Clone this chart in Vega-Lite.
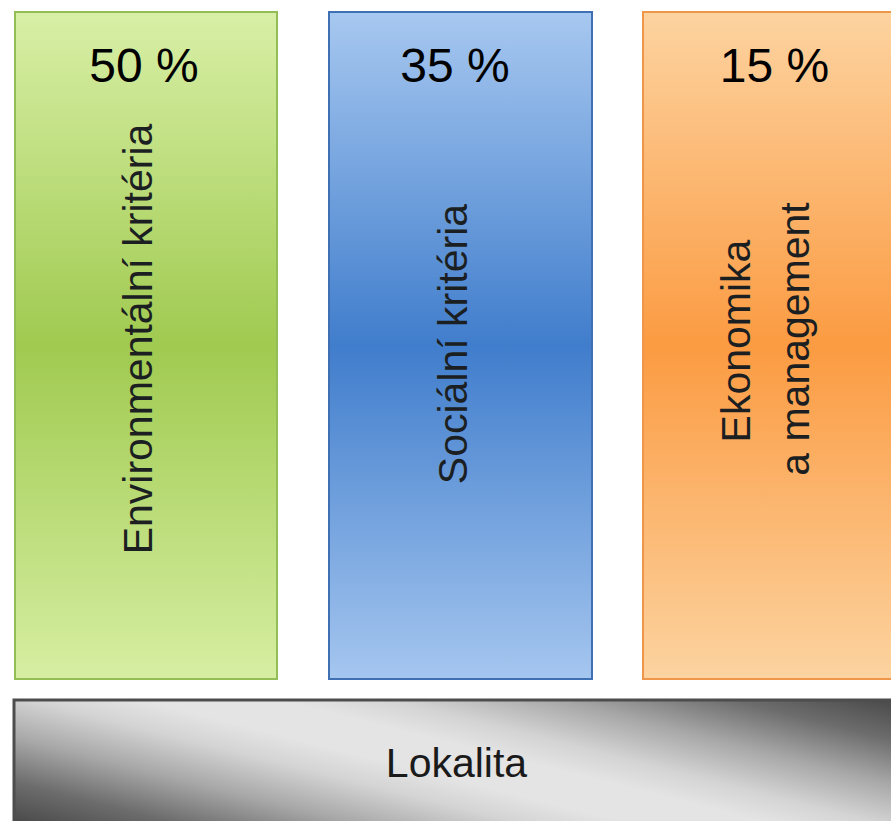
{
  "$schema": "https://vega.github.io/schema/vega-lite/v6.json",
  "width": 891,
  "height": 821,
  "padding": 0,
  "autosize": {"type": "none"},
  "background": "white",
  "config": {"view": {"stroke": null}, "font": "Liberation Sans"},
  "datasets": {
    "boxes": [
      {"name": "env", "x": 15, "x2": 277, "y": 12, "y2": 679},
      {"name": "soc", "x": 329, "x2": 592, "y": 12, "y2": 679},
      {"name": "eko", "x": 643, "x2": 905, "y": 12, "y2": 679},
      {"name": "lok", "x": 14, "x2": 900, "y": 700, "y2": 824}
    ],
    "labels": [
      {"kind": "pct", "text": "50 %", "x": 144, "y": 82},
      {"kind": "pct", "text": "35 %", "x": 455, "y": 82},
      {"kind": "pct", "text": "15 %", "x": 774.5, "y": 82},
      {"kind": "rot", "text": "Environmentální kritéria", "x": 152, "y": 339},
      {"kind": "rot", "text": "Sociální kritéria", "x": 467, "y": 344},
      {"kind": "rot", "text": "Ekonomika", "x": 750, "y": 341},
      {"kind": "rot", "text": "a management", "x": 809, "y": 339},
      {"kind": "base", "text": "Lokalita", "x": 456.5, "y": 777}
    ]
  },
  "encoding": {
    "x": {"field": "x", "type": "quantitative", "scale": {"domain": [0, 891], "nice": false, "zero": false}, "axis": null},
    "y": {"field": "y", "type": "quantitative", "scale": {"domain": [821, 0], "nice": false, "zero": false}, "axis": null}
  },
  "layer": [
    {
      "data": {"name": "boxes"},
      "transform": [{"filter": "datum.name == 'env'"}],
      "mark": {
        "type": "rect", "stroke": "#93bd55", "strokeWidth": 2,
        "fill": {"gradient": "linear", "x1": 0, "y1": 0, "x2": 0, "y2": 1,
          "stops": [
            {"offset": 0, "color": "#d8efa6"},
            {"offset": 0.5, "color": "#a0ca50"},
            {"offset": 1, "color": "#d6eea2"}
          ]}
      },
      "encoding": {"x2": {"field": "x2"}, "y2": {"field": "y2"}}
    },
    {
      "data": {"name": "boxes"},
      "transform": [{"filter": "datum.name == 'soc'"}],
      "mark": {
        "type": "rect", "stroke": "#3f70b4", "strokeWidth": 2,
        "fill": {"gradient": "linear", "x1": 0, "y1": 0, "x2": 0, "y2": 1,
          "stops": [
            {"offset": 0, "color": "#a7c8f0"},
            {"offset": 0.5, "color": "#407dcc"},
            {"offset": 1, "color": "#a5c6ef"}
          ]}
      },
      "encoding": {"x2": {"field": "x2"}, "y2": {"field": "y2"}}
    },
    {
      "data": {"name": "boxes"},
      "transform": [{"filter": "datum.name == 'eko'"}],
      "mark": {
        "type": "rect", "stroke": "#ee9748", "strokeWidth": 2, "clip": true,
        "fill": {"gradient": "linear", "x1": 0, "y1": 0, "x2": 0, "y2": 1,
          "stops": [
            {"offset": 0, "color": "#fdd3a0"},
            {"offset": 0.5, "color": "#fb9b42"},
            {"offset": 1, "color": "#fcd3a0"}
          ]}
      },
      "encoding": {"x2": {"field": "x2"}, "y2": {"field": "y2"}}
    },
    {
      "data": {"name": "boxes"},
      "transform": [{"filter": "datum.name == 'lok'"}],
      "mark": {
        "type": "rect", "stroke": "#4d4d4d", "strokeWidth": 3, "clip": true,
        "fill": {"gradient": "linear", "x1": -0.094, "y1": 0.83, "x2": 1.094, "y2": 0.17,
          "stops": [
            {"offset": 0, "color": "#484848"},
            {"offset": 0.12, "color": "#6c6c6c"},
            {"offset": 0.25, "color": "#a8a8a8"},
            {"offset": 0.37, "color": "#d4d4d4"},
            {"offset": 0.45, "color": "#e4e4e4"},
            {"offset": 0.55, "color": "#e4e4e4"},
            {"offset": 0.63, "color": "#d4d4d4"},
            {"offset": 0.75, "color": "#a8a8a8"},
            {"offset": 0.88, "color": "#6c6c6c"},
            {"offset": 1, "color": "#484848"}
          ]}
      },
      "encoding": {"x2": {"field": "x2"}, "y2": {"field": "y2"}}
    },
    {
      "data": {"name": "labels"},
      "transform": [{"filter": "datum.kind == 'pct'"}],
      "mark": {"type": "text", "font": "Liberation Sans", "fontSize": 48, "align": "center", "baseline": "alphabetic", "color": "#000000"},
      "encoding": {"text": {"field": "text"}}
    },
    {
      "data": {"name": "labels"},
      "transform": [{"filter": "datum.kind == 'rot'"}],
      "mark": {"type": "text", "font": "Liberation Sans", "fontSize": 41, "angle": 270, "align": "center", "baseline": "alphabetic", "color": "#1c1f22"},
      "encoding": {"text": {"field": "text"}}
    },
    {
      "data": {"name": "labels"},
      "transform": [{"filter": "datum.kind == 'base'"}],
      "mark": {"type": "text", "font": "Liberation Sans", "fontSize": 41, "align": "center", "baseline": "alphabetic", "color": "#1a1a1a"},
      "encoding": {"text": {"field": "text"}}
    }
  ]
}
